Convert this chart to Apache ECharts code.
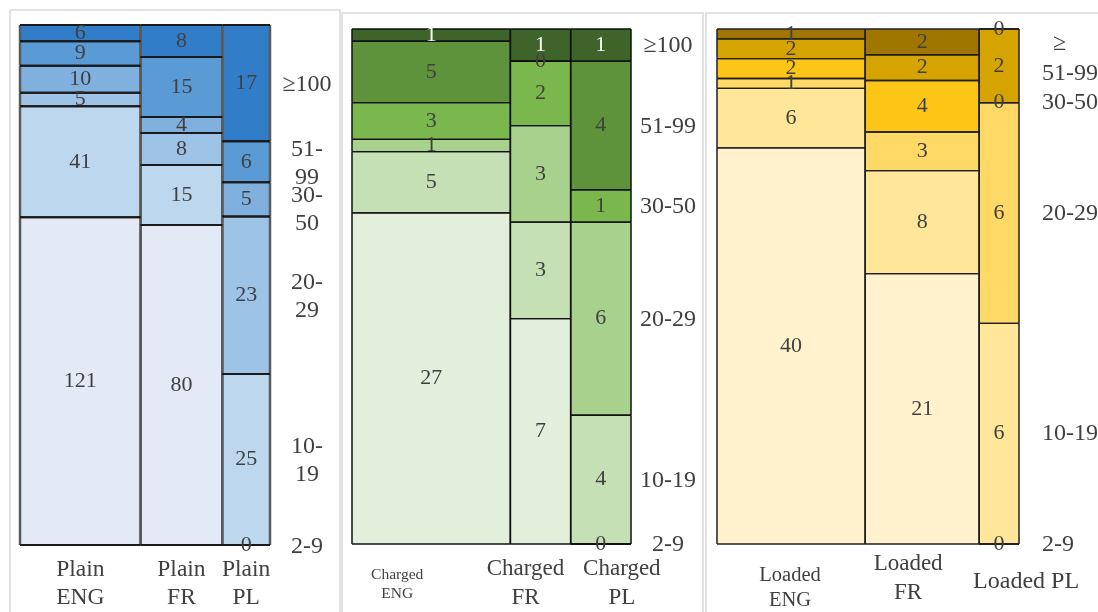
<!DOCTYPE html>
<html>
<head>
<meta charset="utf-8">
<script src="https://cdn.jsdelivr.net/npm/echarts@6/dist/echarts.min.js"></script>
<style>
  html, body { margin: 0; padding: 0; background: #ffffff; }
  #chart { width: 1098px; height: 612px; }
</style>
</head>
<body>
<div id="chart"></div>
<script>
// Size bands, stacked bottom to top in every column
const sizeBands = ['2-9', '10-19', '20-29', '30-50', '51-99', '≥100'];

// Plain
const plainGroups = ['Plain\nENG', 'Plain\nFR', 'Plain\nPL'];
const plainENG = [121, 41, 5, 10, 9, 6];
const plainFR  = [80, 15, 8, 4, 15, 8];
const plainPL  = [0, 25, 23, 5, 6, 17];
const plainSideLabels = ['2-9', '10-\n19', '20-\n29', '30-\n50', '51-\n99', '≥100'];

// Charged
const chargedGroups = ['Charged\nENG', 'Charged\nFR', 'Charged\nPL'];
const chargedENG = [27, 5, 1, 3, 5, 1];
const chargedFR  = [7, 3, 3, 2, 0, 1];
const chargedPL  = [0, 4, 6, 1, 4, 1];
const chargedSideLabels = ['2-9', '10-19', '20-29', '30-50', '51-99', '≥100'];

// Loaded
const loadedGroups = ['Loaded\nENG', 'Loaded\nFR', 'Loaded PL'];
const loadedENG = [40, 6, 1, 2, 2, 1];
const loadedFR  = [21, 8, 3, 4, 2, 2];
const loadedPL  = [0, 6, 6, 0, 2, 0];
const loadedSideLabels = ['2-9', '10-19', '20-29', '30-50', '51-99', '≥'];

const FONT = "'Liberation Serif', 'Times New Roman', serif";
const INK = '#404040';

// Layout and styling of the three mosaic panels
const panels = [
  {
    groups: plainGroups, columns: [plainENG, plainFR, plainPL], side: plainSideLabels,
    grid: { left: 20, top: 25, width: 250, height: 520 },
    frame: { x: 10, y: 10, width: 330, height: 640 },
    colors: ['#e3e9f5', '#bdd7ee', '#9dc3e6', '#7fb0de', '#5b9bd5', '#317dc8'],
    labelColors: [INK, INK, INK, INK, INK, INK],
    hLine: { color: '#1a1a1a', width: 2 },
    vLine: { color: '#5a5a5a', width: 2.5 },
    valueFont: 22,
    sideAlign: 'center', sideDx: 37, sideFont: 24, sideLH: 28,
    sideNudge: [[0, 2], [0, 1], [0, 1], [0, 10], [0, 2], [0, 2]],
    cats: [
      { dx: 0, dy: 39, size: 23.5, lh: 28 },
      { dx: 0, dy: 39, size: 23.5, lh: 28 },
      { dx: 0, dy: 39, size: 23.5, lh: 28 }
    ]
  },
  {
    groups: chargedGroups, columns: [chargedENG, chargedFR, chargedPL], side: chargedSideLabels,
    grid: { left: 352, top: 29, width: 279, height: 515 },
    frame: { x: 342, y: 13, width: 361, height: 640 },
    colors: ['#e2efda', '#c5e0b4', '#a9d18e', '#7ab74c', '#5e933b', '#3f6429'],
    labelColors: [INK, INK, INK, INK, INK, '#ffffff'],
    hLine: { color: '#111111', width: 1.3 },
    vLine: { color: '#111111', width: 1.5 },
    valueFont: 22,
    sideAlign: 'center', sideDx: 37, sideFont: 24, sideLH: 28,
    sideNudge: [[0, 1], [0, 1], [0, 1], [0, 1], [0, 1], [0, 1]],
    cats: [
      { dx: -34, dy: 40, size: 15.5, lh: 19 },
      { dx: -15, dy: 39, size: 23, lh: 29 },
      { dx: 21, dy: 39, size: 23, lh: 29 }
    ]
  },
  {
    groups: loadedGroups, columns: [loadedENG, loadedFR, loadedPL], side: loadedSideLabels,
    grid: { left: 717, top: 29, width: 302, height: 515 },
    frame: { x: 706, y: 13, width: 430, height: 640 },
    colors: ['#fff2cc', '#ffe699', '#ffd966', '#fdc516', '#d6a400', '#9e7600'],
    labelColors: [INK, INK, INK, INK, INK, INK],
    hLine: { color: '#1f1f1f', width: 1.3 },
    vLine: { color: '#1f1f1f', width: 1.5 },
    valueFont: 22,
    sideAlign: 'left', sideDx: 23, sideFont: 24, sideLH: 28,
    sideNudge: [[0, 1], [0, 0], [0, 1], [0, 0], [0, 8], [11, 15]],
    cats: [
      { dx: -1, dy: 44, size: 20.5, lh: 25 },
      { dx: -14, dy: 34, size: 23, lh: 29 },
      { dx: 27, dy: 38, size: 24, lh: 29 }
    ]
  }
];

function totalsOf(columns) {
  return columns.map(c => c.reduce((a, b) => a + b, 0));
}

// Each segment: [xStart, xEnd, yStartShare, yEndShare, count, bandIndex, columnIndex]
function buildSegments(columns) {
  const totals = totalsOf(columns);
  const out = [];
  let x = 0;
  columns.forEach((col, ci) => {
    let y = 0;
    col.forEach((v, bi) => {
      out.push([x, x + totals[ci], y / totals[ci], (y + v) / totals[ci], v, bi, ci]);
      y += v;
    });
    x += totals[ci];
  });
  return out;
}

// Band names sit beside the last column, at the middle of each of its segments
function buildSide(columns) {
  const totals = totalsOf(columns);
  const last = columns.length - 1;
  const xEnd = totals.reduce((a, b) => a + b, 0);
  const out = [];
  let y = 0;
  columns[last].forEach((v, bi) => {
    out.push([xEnd, (y + v / 2) / totals[last], bi]);
    y += v;
  });
  return out;
}

// Group names sit under the middle of each column
function buildCats(columns) {
  const totals = totalsOf(columns);
  const out = [];
  let x = 0;
  totals.forEach((t, ci) => {
    out.push([x + t / 2, 0, ci]);
    x += t;
  });
  return out;
}

function segmentRenderer(panel) {
  return function (params, api) {
    const a = api.coord([api.value(0), api.value(2)]);
    const b = api.coord([api.value(1), api.value(3)]);
    const band = api.value(5);
    const x0 = a[0], x1 = b[0], yb = a[1], yt = b[1];
    const h = { stroke: panel.hLine.color, lineWidth: panel.hLine.width };
    const v = { stroke: panel.vLine.color, lineWidth: panel.vLine.width };
    return {
      type: 'group',
      children: [
        { type: 'rect', z2: 0, shape: { x: x0, y: yt, width: x1 - x0, height: yb - yt },
          style: { fill: panel.colors[band] } },
        { type: 'line', z2: 4, shape: { x1: x0, y1: yt, x2: x0, y2: yb }, style: v },
        { type: 'line', z2: 4, shape: { x1: x1, y1: yt, x2: x1, y2: yb }, style: v },
        { type: 'line', z2: 5, shape: { x1: x0, y1: yt, x2: x1, y2: yt }, style: h },
        { type: 'line', z2: 5, shape: { x1: x0, y1: yb, x2: x1, y2: yb }, style: h },
        { type: 'text', z2: 10,
          style: { text: String(api.value(4)), x: (x0 + x1) / 2, y: (yt + yb) / 2,
                   align: 'center', verticalAlign: 'middle',
                   fontFamily: FONT, fontSize: panel.valueFont, fill: panel.labelColors[band] } }
      ]
    };
  };
}

function sideRenderer(panel) {
  return function (params, api) {
    const p = api.coord([api.value(0), api.value(1)]);
    const bi = api.value(2);
    const n = panel.sideNudge[bi];
    return {
      type: 'text', z2: 10,
      style: { text: panel.side[bi], x: p[0] + panel.sideDx + n[0], y: p[1] + n[1],
               align: panel.sideAlign, verticalAlign: 'middle',
               fontFamily: FONT, fontSize: panel.sideFont, lineHeight: panel.sideLH, fill: INK }
    };
  };
}

function catRenderer(panel) {
  return function (params, api) {
    const p = api.coord([api.value(0), api.value(1)]);
    const ci = api.value(2);
    const c = panel.cats[ci];
    return {
      type: 'text', z2: 10,
      style: { text: panel.groups[ci], x: p[0] + c.dx, y: p[1] + c.dy,
               align: 'center', verticalAlign: 'middle',
               fontFamily: FONT, fontSize: c.size, lineHeight: c.lh, fill: INK }
    };
  };
}

const grids = [], xAxes = [], yAxes = [], series = [], frames = [];
panels.forEach((panel, i) => {
  const total = totalsOf(panel.columns).reduce((a, b) => a + b, 0);
  grids.push(Object.assign({ containLabel: false }, panel.grid));
  xAxes.push({ type: 'value', gridIndex: i, min: 0, max: total, show: false });
  yAxes.push({ type: 'value', gridIndex: i, min: 0, max: 1, show: false });
  series.push({
    type: 'custom', name: panel.groups.join(' ') + ' segments',
    xAxisIndex: i, yAxisIndex: i, clip: false,
    encode: { x: [0, 1], y: [2, 3] },
    data: buildSegments(panel.columns),
    renderItem: segmentRenderer(panel)
  });
  series.push({
    type: 'custom', xAxisIndex: i, yAxisIndex: i, clip: false,
    encode: { x: 0, y: 1 },
    data: buildSide(panel.columns),
    renderItem: sideRenderer(panel)
  });
  series.push({
    type: 'custom', xAxisIndex: i, yAxisIndex: i, clip: false,
    encode: { x: 0, y: 1 },
    data: buildCats(panel.columns),
    renderItem: catRenderer(panel)
  });
  frames.push({
    type: 'rect', z: -10,
    shape: panel.frame,
    style: { fill: '#ffffff', stroke: '#d9d9d9', lineWidth: 1.5 }
  });
});

const chart = echarts.init(document.getElementById('chart'), null, { renderer: 'canvas' });
chart.setOption({
  backgroundColor: '#ffffff',
  animation: false,
  grid: grids,
  xAxis: xAxes,
  yAxis: yAxes,
  graphic: frames,
  series: series
});
</script>
</body>
</html>
